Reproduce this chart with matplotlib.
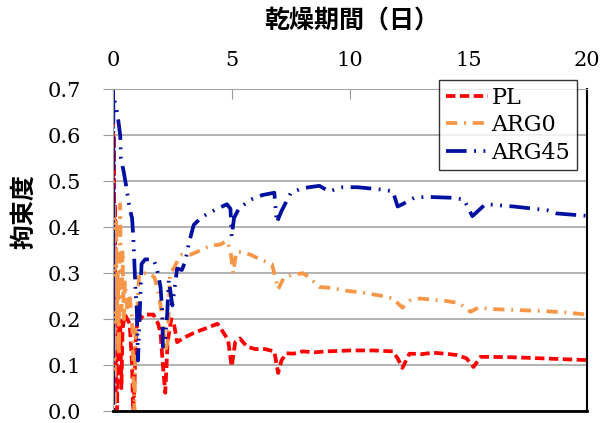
import matplotlib.pyplot as plt

plt.rcParams['font.family'] = ['DejaVu Serif', 'Noto Sans CJK JP']

# データ
pl_x = [0, 0.02, 0.04, 0.06, 0.08, 0.10, 0.12, 0.14, 0.17, 0.2, 0.25, 0.3, 0.35, 0.4, 0.5,
        0.6, 0.7, 0.8, 0.85, 0.9, 0.95, 1.05, 1.15, 1.3, 1.45, 1.7, 1.9, 2.0, 2.1, 2.2, 2.3,
        2.45, 2.55, 2.7, 3.0, 3.4, 3.9, 4.4, 4.6, 4.85, 5.0, 5.15, 5.35, 5.65, 6.0, 6.4, 6.8,
        6.96, 7.1, 7.3, 7.6, 8.0, 8.5, 9.0, 10.0, 11.0, 11.8, 12.0, 12.2, 12.5, 13.0, 13.5,
        14.0, 14.5, 14.9, 15.2, 15.5, 16.0, 17.0, 18.0, 19.0, 20.0]
pl_y = [0.70, 0.05, 0.60, 0.10, 0.45, 0.02, 0.30, 0.15, 0.0, 0.22, 0.12, 0.20, 0.05, 0.18, 0.21,
        0.20, 0.19, 0.10, 0.0, 0.05, 0.15, 0.21, 0.20, 0.21, 0.21, 0.21, 0.19, 0.17, 0.10, 0.04, 0.15,
        0.20, 0.195, 0.15, 0.16, 0.17, 0.18, 0.19, 0.175, 0.155, 0.097, 0.15, 0.158, 0.14, 0.135, 0.135, 0.13,
        0.083, 0.11, 0.126, 0.125, 0.13, 0.128, 0.13, 0.132, 0.132, 0.13, 0.115, 0.094, 0.125, 0.124, 0.127,
        0.125, 0.122, 0.115, 0.096, 0.118, 0.118, 0.117, 0.115, 0.113, 0.111]

arg0_x = [0, 0.02, 0.04, 0.06, 0.08, 0.1, 0.13, 0.16, 0.2, 0.25, 0.3, 0.35, 0.4, 0.45, 0.5,
          0.6, 0.7, 0.8, 0.85, 0.9, 0.95, 1.0, 1.1, 1.3, 1.55, 1.75, 1.9, 2.0, 2.1, 2.2, 2.3,
          2.4, 2.55, 2.75, 2.9, 3.25, 3.7, 4.1, 4.5, 4.8, 4.95, 5.06, 5.2, 5.5, 5.8, 6.2, 6.7,
          6.96, 7.2, 7.5, 8.0, 8.3, 8.7, 9.2, 9.8, 10.5, 11.4, 11.8, 12.2, 12.5, 12.95, 13.5,
          14.0, 14.6, 15.07, 15.4, 16.0, 17.0, 18.0, 19.0, 20.0]
arg0_y = [0.5, 0.1, 0.45, 0.0, 0.35, 0.15, 0.42, 0.2, 0.3, 0.12, 0.45, 0.22, 0.35, 0.2, 0.28,
          0.22, 0.25, 0.2, 0.1, 0.0, 0.18, 0.2, 0.3, 0.3, 0.3, 0.29, 0.26, 0.23, 0.19, 0.13, 0.15,
          0.3, 0.31, 0.33, 0.34, 0.34, 0.35, 0.36, 0.362, 0.37, 0.35, 0.30, 0.347, 0.345, 0.34, 0.33, 0.32,
          0.265, 0.29, 0.296, 0.30, 0.29, 0.27, 0.268, 0.262, 0.258, 0.25, 0.245, 0.225, 0.24, 0.245, 0.242,
          0.24, 0.235, 0.216, 0.225, 0.222, 0.22, 0.218, 0.215, 0.21]

arg45_x = [0, 0, 0.01, 0.1, 0.2, 0.3, 0.33, 0.45, 0.55, 0.7, 0.8, 0.85, 0.9, 0.95, 1.0, 1.05,
           1.2, 1.35, 1.5, 1.7, 1.85, 2.0, 2.07, 2.1, 2.2, 2.28, 2.35, 2.5, 2.7, 2.9, 3.04, 3.2,
           3.4, 3.7, 4.0, 4.4, 4.8, 4.95, 5.0, 5.1, 5.3, 5.8, 6.3, 6.8, 6.9, 7.1, 7.5, 8.0, 8.7,
           9.1, 9.7, 10.3, 11.3, 11.8, 12.0, 12.2, 12.7, 13.2, 14.3, 14.8, 15.15, 15.7, 16.9,
           18.3, 18.7, 19.9, 20.0]
arg45_y = [0.7, 0.0, 0.68, 0.67, 0.64, 0.6, 0.55, 0.52, 0.49, 0.44, 0.42, 0.38, 0.32, 0.26, 0.22, 0.11,
           0.32, 0.33, 0.33, 0.33, 0.31, 0.27, 0.22, 0.14, 0.16, 0.21, 0.285, 0.23, 0.31, 0.307, 0.325, 0.366,
           0.405, 0.42, 0.43, 0.44, 0.45, 0.44, 0.38, 0.42, 0.44, 0.46, 0.47, 0.475, 0.41, 0.435, 0.475, 0.485, 0.49,
           0.478, 0.487, 0.487, 0.482, 0.478, 0.445, 0.45, 0.464, 0.466, 0.464, 0.46, 0.424, 0.45, 0.445,
           0.437, 0.43, 0.425, 0.424]

x_ticks = [0, 5, 10, 15, 20]
y_ticks = [0.0, 0.1, 0.2, 0.3, 0.4, 0.5, 0.6, 0.7]

fig = plt.figure(figsize=(6.08, 4.23), dpi=100)
ax = fig.add_axes([0.186, 0.028, 0.780, 0.761])

ax.plot(pl_x, pl_y, color='#FF0000', lw=2.7, linestyle=(0, (2.5, 1.2)), label='PL')
ax.plot(arg0_x, arg0_y, color='#F79646', lw=2.7, linestyle=(0, (3, 1.8, 0.5, 1.8)), label='ARG0')
ax.plot(arg45_x, arg45_y, color='#0010A0', lw=2.7,
        linestyle=(0, (5.5, 2, 0.5, 2, 0.5, 2)), label='ARG45')

ax.set_xlim(0, 20)
ax.set_ylim(0, 0.7)
ax.set_xticks(x_ticks)
ax.set_yticks(y_ticks)
ax.set_yticklabels(['%.1f' % v for v in y_ticks])
ax.xaxis.tick_top()
ax.tick_params(axis='x', direction='in', length=7, color='#999999', pad=14, labelsize=15)
ax.tick_params(axis='y', direction='out', length=7, color='#999999', pad=16, labelsize=15)
ax.grid(axis='y', color='#A6A6A6', lw=1.2)
ax.set_axisbelow(True)

ax.spines['top'].set_color('#A6A6A6')
ax.spines['left'].set_color('#A6A6A6')
ax.spines['right'].set_color('black')
ax.spines['bottom'].set_color('black')
ax.spines['right'].set_linewidth(1.5)
ax.spines['bottom'].set_linewidth(2)

fig.text(0.578, 0.95, '乾燥期間（日）', ha='center', va='center', fontsize=18,
         family=['Noto Sans CJK JP'], fontweight='bold')
fig.text(0.04, 0.499, '拘束度', ha='center', va='center', rotation=90, fontsize=18,
         family=['Noto Sans CJK JP'], fontweight='bold')

leg = ax.legend(loc='upper right', bbox_to_anchor=(0.949, 0.811), bbox_transform=fig.transFigure,
                fontsize=16, frameon=True, fancybox=False, borderaxespad=0, borderpad=0.3,
                handlelength=1.9, handletextpad=0.15, labelspacing=0.25)
leg.get_frame().set_edgecolor('black')
leg.get_frame().set_linewidth(1.0)

fig.savefig('out.png', dpi=100)
